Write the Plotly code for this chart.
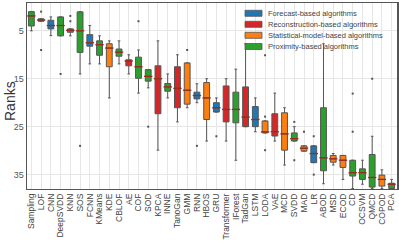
import plotly.graph_objects as go

categories = ["Sampling", "LOF", "CNN", "DeepSVDD", "KNN", "SOS", "FCNN", "KMeans", "KDE", "CBLOF",
              "AE", "COF", "SOD", "KPCA", "INNE", "TanoGan", "GMM", "RNN", "HBOS", "GRU",
              "Transformer", "IForest", "TadGan", "LSTM", "LODA", "VAE", "MCD", "SVDD", "MAD", "LR",
              "ABOD", "MSD", "ECOD", "CD", "OCSVM", "QMCD", "COPOD", "PCA"]
groups = ["P", "P", "F", "P", "P", "P", "F", "P", "S", "P",
          "R", "P", "P", "R", "P", "R", "S", "F", "S", "F",
          "R", "P", "R", "F", "S", "R", "S", "P", "S", "F",
          "P", "S", "S", "P", "P", "P", "S", "P"]
lo  = [1.0, 2.5, 2.1, 2.1, 4.6, 1.05, 3.9, 6.05, 7.1, 7.1,
       10.0, 9.0, 13.1, 7.1, 14.0, 10.0, 11.7, 16.05, 15.0, 19.0,
       15.0, 13.0, 7.7, 19.0, 23.8, 18.0, 21.05, 25.0, 29.0, 29.0,
       7.7, 30.6, 31.0, 32.0, 32.0, 27.0, 34.0, 36.0]
q1  = [1.0, 2.5, 2.8, 2.1, 4.6, 1.05, 5.8, 7.1, 7.7, 8.8,
       11.05, 10.5, 13.1, 12.3, 16.0, 12.5, 11.7, 17.8, 15.8, 20.0,
       16.5, 17.8, 16.7, 20.8, 23.8, 22.3, 22.1, 26.3, 29.0, 29.0,
       21.05, 31.0, 31.0, 32.0, 33.8, 30.8, 35.1, 36.8]
med = [1.9, 2.75, 3.9, 3.9, 4.9, 5.0, 7.5, 7.9, 8.6, 9.45,
       11.3, 12.5, 14.5, 15.0, 16.7, 17.0, 17.4, 18.5, 19.0, 21.05,
       21.4, 21.4, 23.0, 23.5, 26.1, 26.05, 26.5, 27.5, 29.5, 30.6,
       31.5, 31.7, 32.0, 34.6, 34.6, 35.6, 36.0, 37.0]
q3  = [4.0, 3.0, 4.6, 6.05, 5.3, 9.5, 8.2, 10.1, 12.5, 10.3,
       12.3, 14.9, 15.5, 22.3, 17.6, 21.05, 20.3, 19.2, 23.5, 21.95,
       24.0, 24.2, 25.0, 25.0, 26.3, 26.95, 29.9, 28.0, 30.1, 32.5,
       34.2, 32.4, 33.5, 35.3, 36.0, 37.6, 37.4, 37.9]
hi  = [5.0, 3.0, 6.0, 6.05, 6.05, 14.0, 11.9, 11.9, 19.0, 11.9,
       14.0, 18.0, 16.9, 29.9, 19.0, 24.0, 21.05, 20.0, 28.0, 21.95,
       28.0, 32.0, 25.0, 26.05, 26.3, 28.0, 33.0, 28.0, 30.1, 32.5,
       36.9, 33.0, 36.0, 37.9, 37.0, 37.9, 37.9, 37.9]
outlier_cats = ["LOF", "LOF", "DeepSVDD", "KNN", "KNN", "SOS", "COF", "SOD", "GMM", "RNN",
                "GRU", "LODA", "LODA", "LODA", "SVDD", "SVDD", "MAD", "LR", "LR",
                "CD", "CD", "QMCD"]
outlier_vals = [1.0, 9.0, 14.0, 1.9, 3.0, 29.0, 3.0, 25.0, 9.0, 29.0,
                27.0, 10.1, 22.9, 29.9, 24.0, 32.0, 26.05, 27.0, 35.0,
                18.1, 26.05, 15.0]

group_keys = ["F", "R", "S", "P"]
group_names = {"F": "Forecast-based algorithms", "R": "Reconstruction-based algorithms",
               "S": "Statistical-model-based algorithms", "P": "Proximity-based algorithms"}
group_colors = {"F": "#1f77b4", "R": "#d62728", "S": "#ff7f0e", "P": "#2ca02c"}

fig = go.Figure()
for g in group_keys:
    idx = [i for i, gg in enumerate(groups) if gg == g]
    fig.add_trace(go.Box(
        name=group_names[g], showlegend=False,
        x=[categories[i] for i in idx],
        q1=[q1[i] for i in idx], median=[med[i] for i in idx], q3=[q3[i] for i in idx],
        lowerfence=[lo[i] for i in idx], upperfence=[hi[i] for i in idx],
        fillcolor=group_colors[g], line=dict(color="#555555", width=1),
        width=0.6, whiskerwidth=0.45, boxpoints=False, opacity=1,
    ))

fig.add_trace(go.Scatter(
    x=categories, y=med, mode="markers", showlegend=False, hoverinfo="skip",
    marker=dict(symbol="line-ew", size=6, line=dict(color="#9b2a1e", width=1.3)),
))
fig.add_trace(go.Scatter(
    x=outlier_cats, y=outlier_vals, mode="markers", showlegend=False,
    marker=dict(symbol="square", size=2, color="#555555"),
))

# compact legend (swatches + labels) in the upper right of the plot area
L, T, W, H = 27, 3, 370, 186
row_px = [13.3, 24.3, 35.3, 46.5]
for g, py in zip(group_keys, row_px):
    yc = 1 - (py - T) / H
    fig.add_shape(type="rect", xref="paper", yref="paper",
                  x0=(245 - L) / W, x1=(262 - L) / W, y0=yc - 3 / H, y1=yc + 3 / H,
                  fillcolor=group_colors[g], line=dict(color="#555555", width=0.8))
    fig.add_annotation(xref="paper", yref="paper", x=(266 - L) / W, y=yc,
                       xanchor="left", yanchor="middle", showarrow=False,
                       text=group_names[g], font=dict(size=7.5, color="#444444"))

fig.add_annotation(xref="paper", yref="paper", x=(10 - L) / W, y=1 - (101 - T) / H,
                   xanchor="center", yanchor="middle", showarrow=False, textangle=-90,
                   text="Ranks", font=dict(size=14, color="#333333"))

fig.update_layout(
    width=399, height=249,
    margin=dict(l=L, r=399 - L - W, t=T, b=249 - T - H),
    paper_bgcolor="white", plot_bgcolor="white",
    boxmode="overlay", showlegend=False, hovermode=False,
    font=dict(family="Liberation Sans, Arial, sans-serif", size=8, color="#444444"),
)
fig.update_xaxes(
    type="category", categoryorder="array", categoryarray=categories,
    range=[-0.45, 37.55], tickangle=-90, tickfont=dict(size=8.5, color="#444444"),
    tickmode="linear", dtick=1,
    showgrid=True, gridcolor="#e6e6e6", gridwidth=1, automargin=False,
    showline=True, linecolor="#555555", linewidth=1.2, mirror=True, ticks="",
)
fig.update_yaxes(
    range=[38.0, -0.8], tickvals=[5, 15, 25, 35], tickfont=dict(size=9, color="#555555"),
    showgrid=True, gridcolor="#e6e6e6", gridwidth=1, zeroline=False, automargin=False,
    showline=True, linecolor="#555555", linewidth=1.5, mirror=True, ticks="",
)

fig.write_html("out.html", config={"displayModeBar": False, "staticPlot": True},
               post_script="document.body.style.margin='0';")
